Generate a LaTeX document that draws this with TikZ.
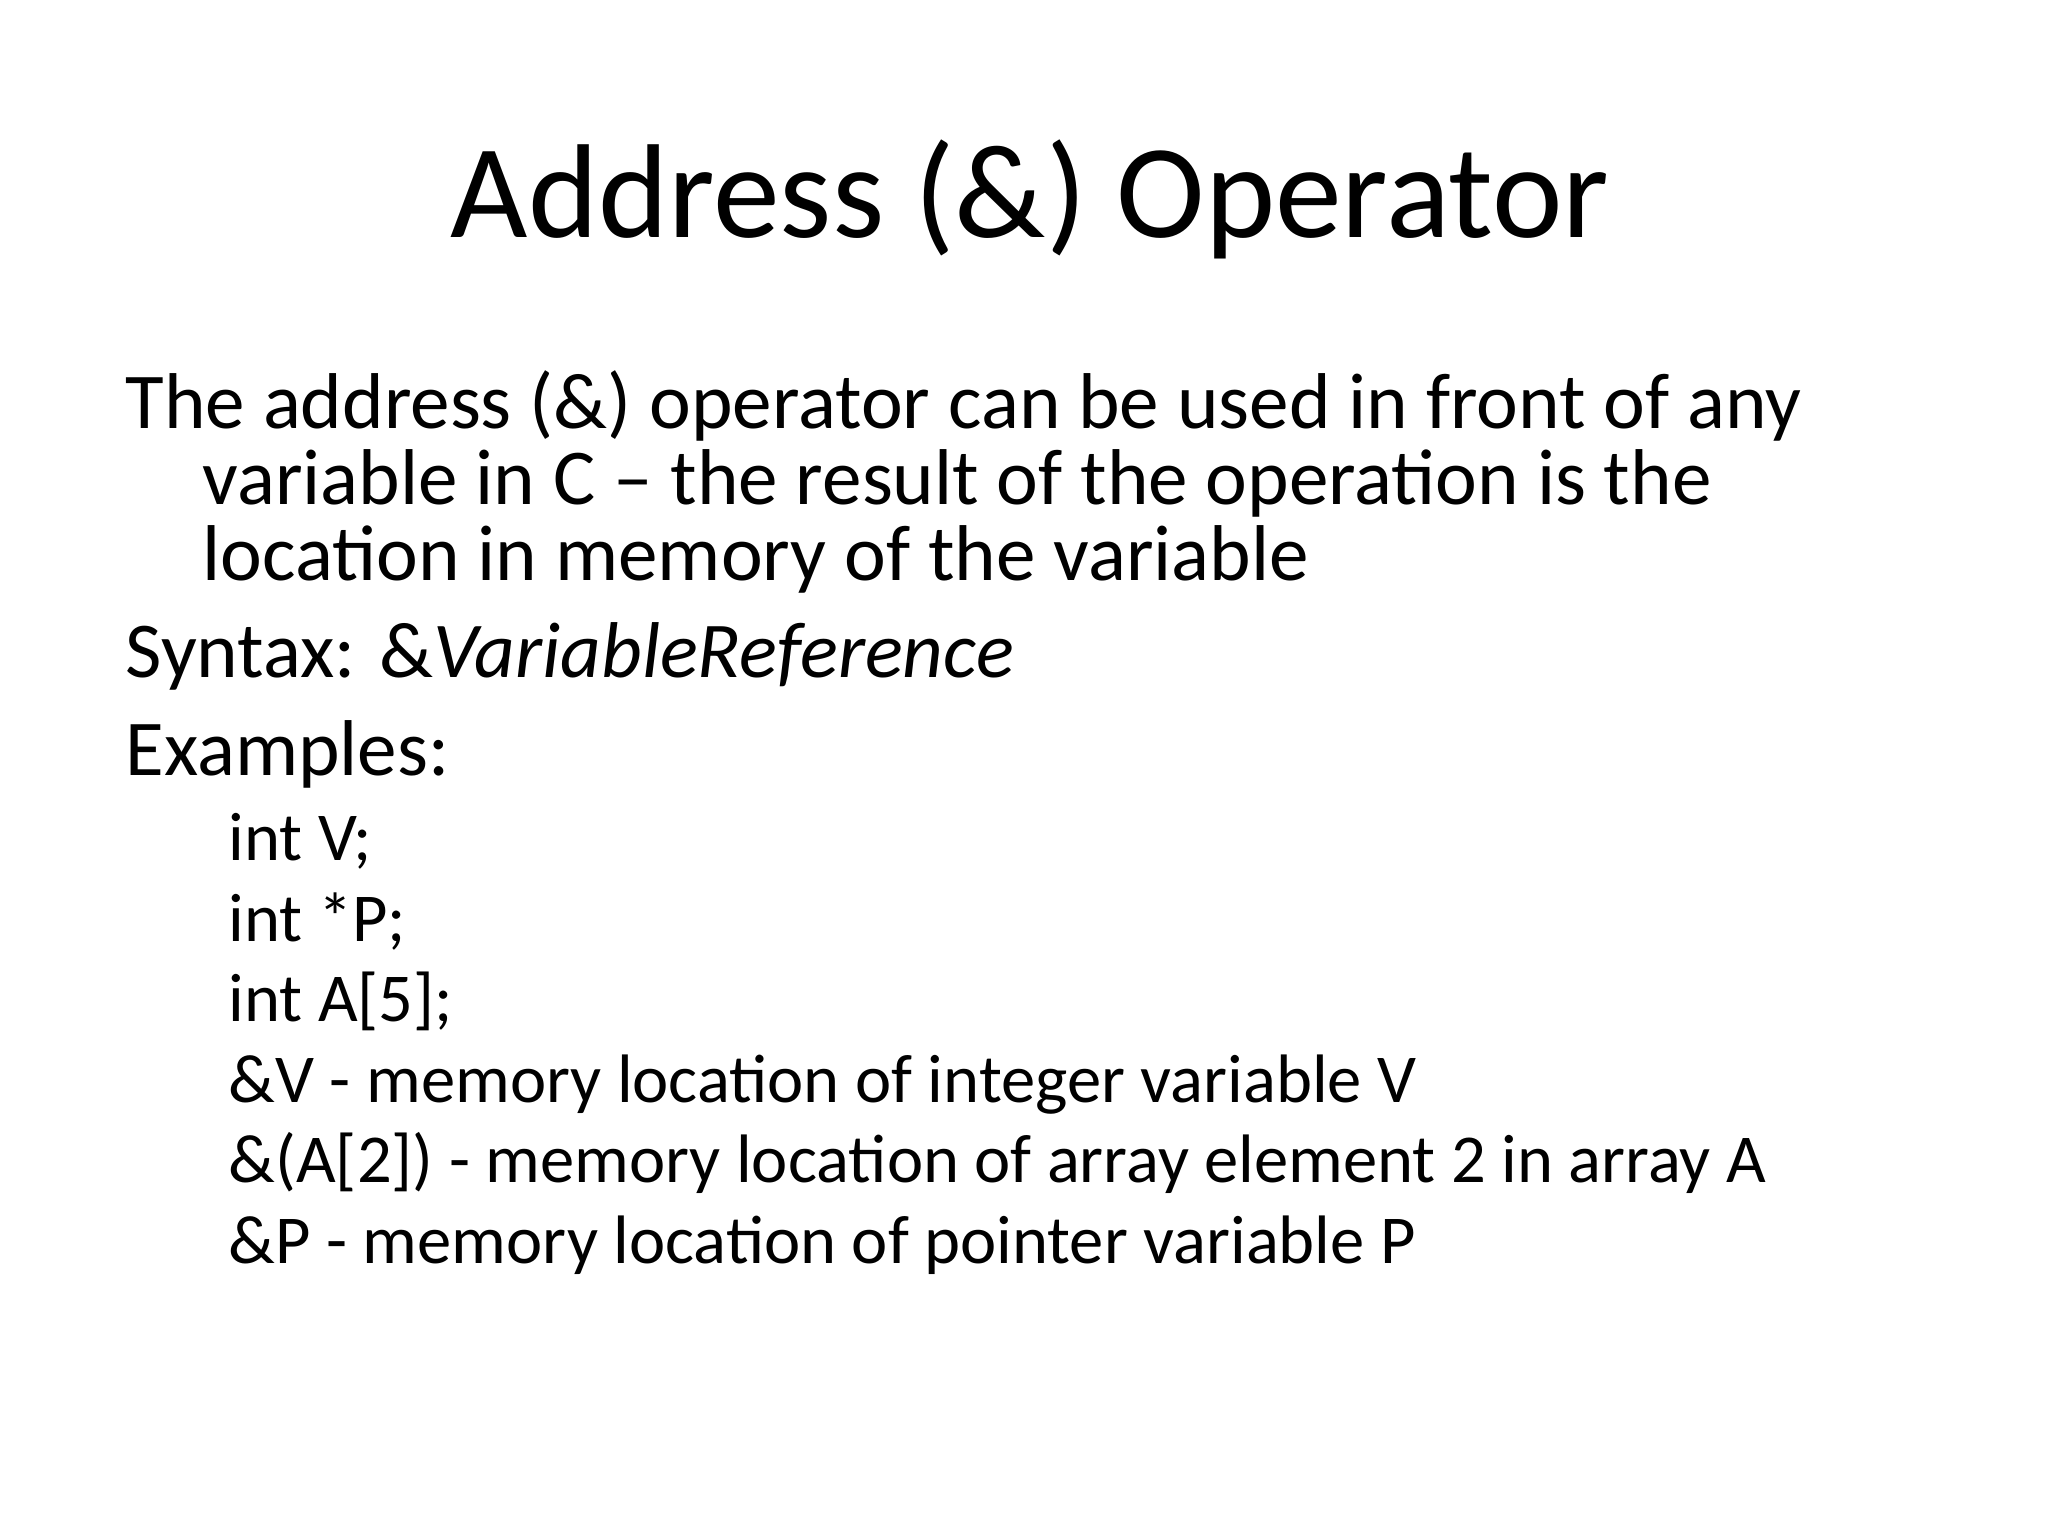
\documentclass[tikz,border=0pt]{standalone}
\usepackage{fontspec}
\setmainfont{Carlito}
\begin{document}
\begin{tikzpicture}[x=0.01cm,y=-0.01cm,
  ttl/.style={anchor=base,inner sep=0pt,font=\fontsize{38}{40}\selectfont},
  body/.style={anchor=base west,inner sep=0pt,font=\fontsize{22.5}{24}\selectfont},
  sub/.style={anchor=base west,inner sep=0pt,font=\fontsize{19.5}{21}\selectfont}]
\useasboundingbox (0,0) rectangle (2048,1536);
\node[ttl] (title) at (1030,237) {Address (\&) Operator};
\node[body] (l1) at (125,428) {The address (\&) operator can be used in front of any};
\node[body] (l2) at (202,504) {variable in C -- the result of the operation is the};
\node[body] (l3) at (202,580) {location in memory of the variable};
\node[body] (l4) at (125,677) {Syntax: \&\textit{VariableReference}};
\node[body] (l5) at (125,775) {Examples:};
\node[sub] (s1) at (228,860) {int V;};
\node[sub] (s2) at (228,941) {int *P;};
\node[sub] (s3) at (228,1021) {int A[5];};
\node[sub] (s4) at (228,1102) {\&V - memory location of integer variable V};
\node[sub] (s5) at (228,1182) {\&(A[2]) - memory location of array element 2 in array A};
\node[sub] (s6) at (228,1263) {\&P - memory location of pointer variable P};
\end{tikzpicture}
\end{document}
